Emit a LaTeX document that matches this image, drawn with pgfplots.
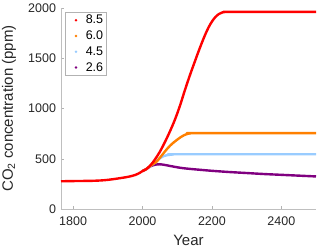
\documentclass[border=0pt]{standalone}
\usepackage{fontspec}
\setmainfont{Liberation Sans}
\usepackage{pgfplots}
\pgfplotsset{compat=1.18}
\definecolor{c85}{rgb}{1,0,0}
\definecolor{c60}{rgb}{1,0.5,0}
\definecolor{c45}{rgb}{0.6,0.8,1}
\definecolor{c26}{rgb}{0.5,0,0.5}
\begin{document}
\begin{tikzpicture}
\begin{axis}[
  scale only axis, width=255pt, height=201pt,
  xmin=1765, xmax=2500, ymin=0, ymax=2000,
  axis x line*=bottom, axis y line*=left,
  axis line style={draw=black!25, line width=0.7pt},
  tick style={draw=black!30, line width=0.5pt},
  tick align=inside, major tick length=3pt,
  xtick={1800,2000,2200,2400}, ytick={0,500,1000,1500,2000},
  /pgf/number format/assume math mode=true,
  /pgf/number format/1000 sep={},
  tick label style={font=\fontsize{12.5}{13}\selectfont, text=black!85},
  xticklabel style={yshift=-4.5pt},
  yticklabel style={xshift=-1.5pt},
  label style={font=\fontsize{15}{16}\selectfont, text=black!85},
  xlabel={Year}, ylabel={CO\textsubscript{2} concentration (ppm)},
  xlabel style={at={(axis description cs:0.5,0)}, anchor=center, yshift=-31pt},
  ylabel style={at={(axis description cs:0,0.5)}, anchor=center, yshift=52pt},
  legend style={draw=black!30, line width=0.5pt, font=\fontsize{12.5}{13}\selectfont, at={(rel axis cs:0,1)}, anchor=north west, xshift=4pt, yshift=-4pt, inner xsep=2.25pt, inner ysep=0pt, row sep=0pt, nodes={inner xsep=1.25pt, inner ysep=2.8pt}},
  legend cell align=left,
  legend image code/.code={\path[draw=none, fill=none] (0pt,-3pt) rectangle (17pt,3pt); \fill[draw=none] (8.5pt,0pt) circle (1.4pt);},
  every axis plot/.append style={line width=2.4pt, line join=round},
]
\addlegendimage{c85}
\addlegendentry{8.5}
\addlegendimage{c60}
\addlegendentry{6.0}
\addlegendimage{c45}
\addlegendentry{4.5}
\addlegendimage{c26}
\addlegendentry{2.6}
\addplot[c26, smooth, forget plot] coordinates {
(2000,378) (2010,395) (2022,423) (2035,440) (2050,445) (2065,438) (2080,428) (2100,415) (2120,405) (2150,395) (2200,380) (2250,368) (2300,358) (2350,348) (2400,340) (2450,332) (2500,324)};
\addplot[c45, smooth, forget plot] coordinates {
(2000,378) (2010,395) (2022,425) (2040,475) (2050,505) (2060,525) (2070,535) (2080,540) (2090,543) (2100,545) (2500,545)};
\addplot[c60, smooth, forget plot] coordinates {
(2000,378) (2010,395) (2022,428) (2040,470) (2050,510) (2060,553) (2070,595) (2080,632) (2090,663) (2100,690) (2110,715) (2120,735) (2130,748) (2140,754) (2150,755) (2500,755)};
\addplot[c85, smooth, forget plot] coordinates {
(1765,276) (1800,278) (1860,281) (1900,290) (1955,318) (1980,340) (1994,364) (2000,378) (2010,395) (2020,425) (2030,465) (2040,515) (2050,570) (2060,635) (2070,705) (2080,780) (2090,860) (2100,950) (2110,1050) (2120,1160) (2130,1265) (2140,1365) (2150,1460) (2160,1555) (2170,1645) (2180,1730) (2190,1805) (2200,1865) (2210,1910) (2220,1940) (2230,1956) (2240,1962) (2250,1962) (2500,1962)};
\end{axis}
\pgfresetboundingbox
\path[use as bounding box] ([shift={(-61pt,-40pt)}]current axis.south west) rectangle ([shift={(4pt,8pt)}]current axis.north east);
\end{tikzpicture}
\end{document}
